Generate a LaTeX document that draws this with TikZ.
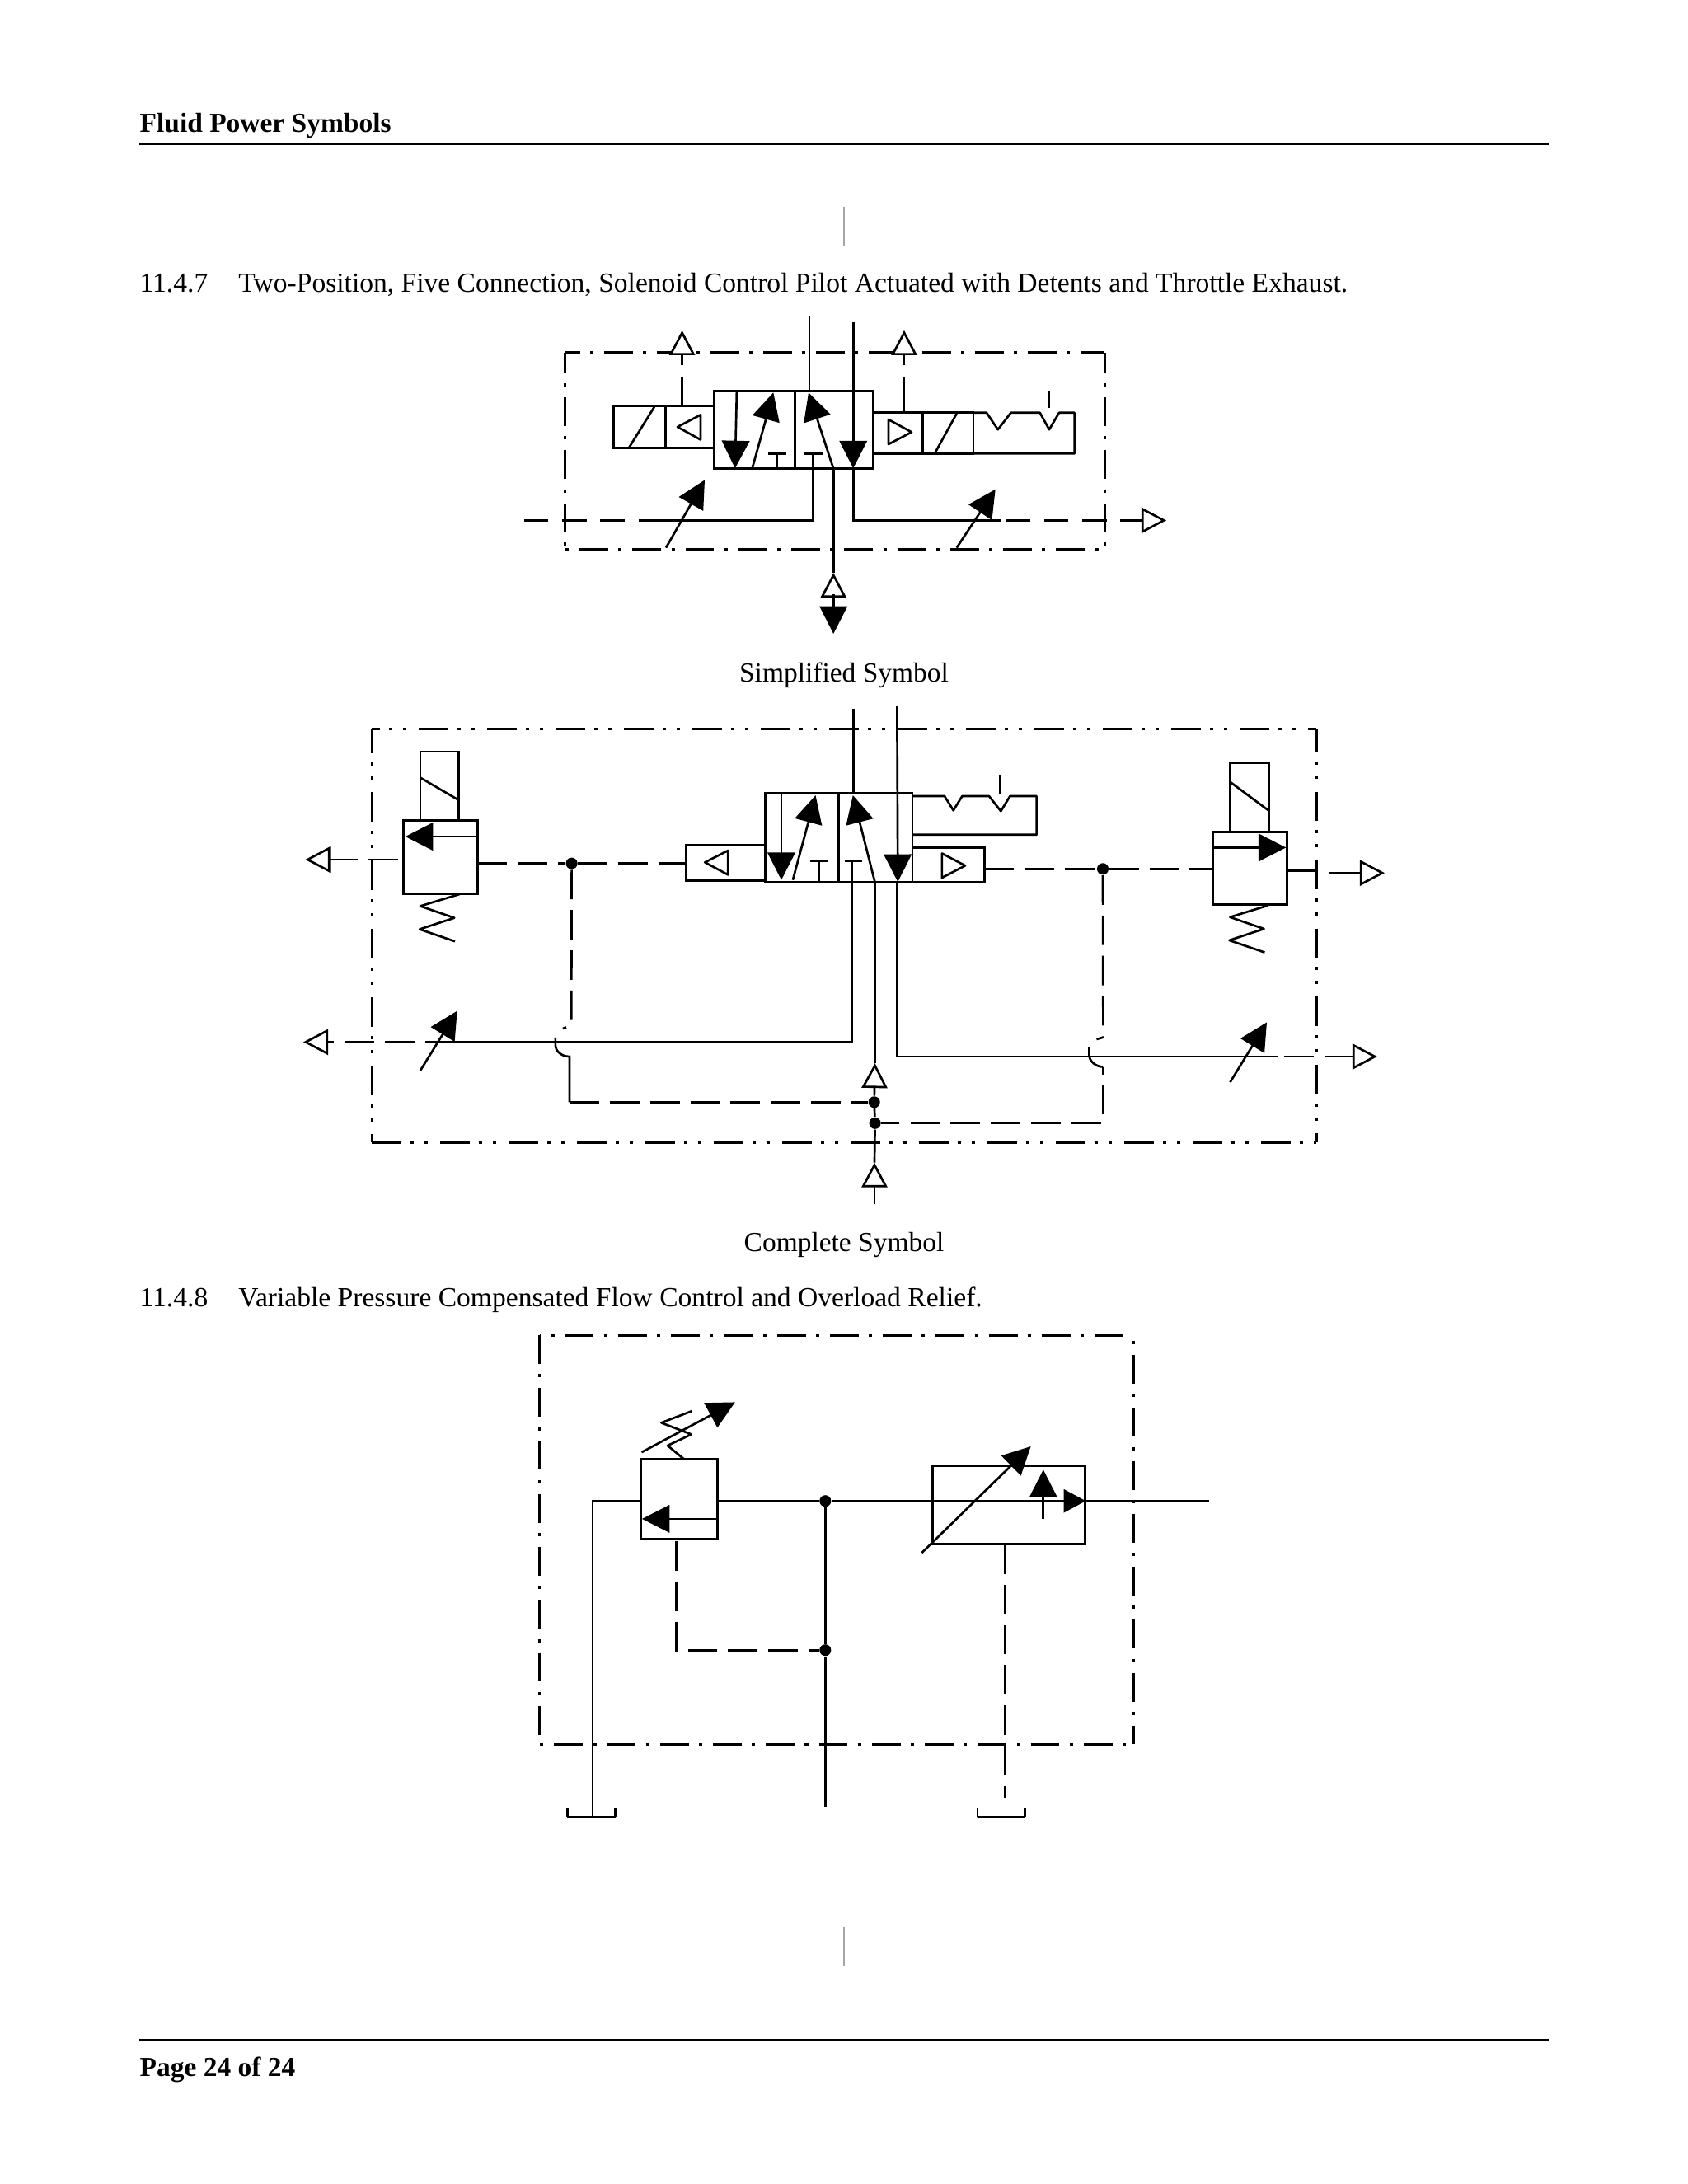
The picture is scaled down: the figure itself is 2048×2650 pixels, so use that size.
\documentclass[tikz,border=0pt]{standalone}
\usepackage{fontspec}
\setmainfont{Liberation Serif}
\usetikzlibrary{arrows.meta}
\usetikzlibrary{fit}
\begin{document}
\begin{tikzpicture}[x=0.29883pt,y=-0.29883pt]
	\tikzset{vertex/.style = {shape=rectangle, draw, line width=0.8pt, inner sep=0pt, outer sep=0pt}}
	\tikzset{junction/.style = {shape=circle, fill=black, inner sep=0pt, minimum size=4.2pt}}
	\tikzset{caption/.style = {anchor=base, inner sep=0pt}}
	\tikzset{heading/.style = {anchor=base west, inner sep=0pt}}
	\tikzset{section/.style = {heading, font=\fontsize{10.03pt}{12pt}\selectfont}}
	\tikzset{pipe/.style = {line width=0.8pt}}
	\tikzset{glyph/.style = {line width=0.8pt, line join=round}}
	\tikzset{pagerule/.style = {line width=0.6pt}}
	\tikzset{regmark/.style = {line width=0.5pt, draw=black!35}}
	\tikzset{pilot/.style = {line width=0.8pt, dash pattern=on 10.7pt off 3.9pt}}
	\tikzset{drain/.style = {line width=0.8pt, dash pattern=on 8.8pt off 5pt}}
	\tikzset{onedot/.style = {line width=0.9pt, dash pattern=on 10.4pt off 3.7pt on 1.2pt off 3.9pt}}
	\tikzset{twodot/.style = {line width=0.9pt, dash pattern=on 10.7pt off 3.3pt on 1.2pt off 3.9pt on 1.2pt off 4.5pt}}
	\tikzset{solidtip/.style = {-{Triangle[length=10pt,width=10pt]}}}
	\tikzset{smalltip/.style = {-{Triangle[length=8pt,width=8.4pt]}}}
	\tikzset{opentip/.style = {-{Triangle[open,fill=white,length=9pt,width=9.3pt]}}}

	\useasboundingbox[fill=white] (0,0) rectangle (2048,2650);

	\node[heading] (HEADER) at (169,160) {\bfseries Fluid Power Symbols};
	\coordinate (HRULEA) at (169,175);
	\coordinate (HRULEB) at (1879,175);
	\draw[pagerule] (HRULEA) -- (HRULEB);
	\coordinate (MARKA) at (1024,251);
	\coordinate (MARKB) at (1024,298);
	\draw[regmark] (MARKA) -- (MARKB);
	\node[section] (TITLEA) at (169,354) {11.4.7\hspace{11.1pt}Two-Position, Five Connection, Solenoid Control Pilot Actuated with Detents and Throttle Exhaust.};

	\coordinate (SNW) at (685.7,427.9);
	\coordinate (SNE) at (1340,427.9);
	\coordinate (SSW) at (685.7,666);
	\coordinate (SSE) at (1340,666);
	\draw[onedot, dash phase=5pt] (SNW) -- (SNE);
	\draw[onedot, dash phase=3pt] (SNW) -- (SSW);
	\draw[onedot, dash phase=14pt] (SSW) -- (SSE);
	\draw[onedot, dash phase=3pt] (SNE) -- (SSE);

	\node[vertex, fit={(744.4,492.7)(807.7,543.7)}] (SSOLL) {};
	\node[vertex, fit={(807.7,492.7)(866.8,543.7)}] (SPILOTL) {};
	\node[vertex, fit={(866.8,474.3)(964.8,568.7)}] (SVALVEL) {};
	\node[vertex, fit={(964.8,474.3)(1059.7,568.7)}] (SVALVER) {};
	\node[vertex, fit={(1059.7,500.8)(1119.4,550.3)}] (SPILOTR) {};
	\node[vertex, fit={(1119.4,500.8)(1181,550.3)}] (SSOLR) {};
	\draw[glyph] (1181,500.8) -- (1197,500.8) -- (1210.7,521.2) -- (1226.5,500.8) -- (1261.7,500.8) -- (1273,521.2) -- (1285,500.8) -- (1303.6,500.8) -- (1303.6,550.3) -- (1181,550.3);
	\draw[glyph] (1273,474.8) -- (1273,495);
	\draw[glyph] (762.8,543.7) -- (793.9,493.7);
	\draw[glyph] (1134,550.3) -- (1160.7,501.8);
	\draw[glyph] (850,503.4) -- (822,518) -- (850,533.5) -- cycle;
	\draw[glyph] (1078,509) -- (1106,524.3) -- (1078,539) -- cycle;
	\draw[glyph] (931.6,550.3) -- (954,550.3);
	\draw[glyph] (942.9,550.3) -- (942.9,568.7);
	\draw[glyph] (975.5,550.3) -- (998,550.3);

	\coordinate (SUPA) at (982.1,384);
	\coordinate (SUPB) at (1035.2,390.6);
	\coordinate (SPORTA) at (982.1,474.3);
	\coordinate (SPORTB) at (1035.2,568.2);
	\coordinate (SPORTC) at (1035.2,568.7);
	\coordinate (SPORTP) at (1011.2,568.7);
	\coordinate (SPORTD) at (986.7,550.3);
	\coordinate (STIPA) at (981,476.3);
	\coordinate (SDOWNA) at (893.9,474.3);
	\coordinate (SDOWNB) at (891.8,568.2);
	\coordinate (SRISEA) at (912.8,567.7);
	\coordinate (SRISEB) at (938.3,476.3);
	\draw[pipe] (SUPA) -- (SPORTA);
	\draw[pipe, solidtip] (SUPB) -- (SPORTB);
	\draw[pipe, solidtip] (SPORTP) -- (STIPA);
	\draw[pipe, solidtip] (SDOWNA) -- (SDOWNB);
	\draw[pipe, solidtip] (SRISEA) -- (SRISEB);

	\coordinate (SPAPEX) at (1011.2,695);
	\coordinate (SPBASE) at (1011.2,721);
	\coordinate (SPBACK) at (1011.2,735);
	\coordinate (SPTIP) at (1011.2,769);
	\draw[pipe] (SPORTP) -- (SPAPEX);
	\draw[pipe, opentip] (SPBACK) -- (SPAPEX);
	\draw[pipe, solidtip] (SPBASE) -- (SPTIP);

	\coordinate (SEXLA) at (827.6,492.7);
	\coordinate (SEXLB) at (827.6,457);
	\coordinate (SEXLC) at (827.6,443);
	\coordinate (SEXLD) at (827.6,400.8);
	\draw[pipe] (SEXLA) -- (SEXLB);
	\draw[pipe, opentip] (SEXLC) -- (SEXLD);
	\coordinate (SEXRA) at (1097,500.8);
	\coordinate (SEXRB) at (1097,457);
	\coordinate (SEXRC) at (1097,443);
	\coordinate (SEXRD) at (1097,400.8);
	\draw[pipe] (SEXRA) -- (SEXRB);
	\draw[pipe, opentip] (SEXRC) -- (SEXRD);

	\coordinate (SCORNL) at (986.7,631.4);
	\coordinate (SSOLIDL) at (804,631.4);
	\coordinate (SENDL) at (634.7,631.4);
	\draw[pipe] (SPORTD) -- (SCORNL) -- (SSOLIDL);
	\draw[drain] (SSOLIDL) -- (SENDL);
	\coordinate (SCORNR) at (1035.2,631.4);
	\coordinate (SSOLIDR) at (1214.8,631.4);
	\coordinate (SENDR) at (1415,631.4);
	\draw[pipe] (SPORTC) -- (SCORNR) -- (SSOLIDR);
	\draw[drain, dash phase=12pt, opentip] (SSOLIDR) -- (SENDR);
	\coordinate (SADJLA) at (808,664.6);
	\coordinate (SADJLB) at (855,582.4);
	\coordinate (SADJRA) at (1160.7,664.6);
	\coordinate (SADJRB) at (1207.7,593.7);
	\draw[pipe, solidtip] (SADJLA) -- (SADJLB);
	\draw[pipe, solidtip] (SADJRA) -- (SADJRB);

	\node[caption] (CAPTIONA) at (1024,827) {Simplified Symbol};

	\coordinate (CNW) at (451.2,884.2);
	\coordinate (CNE) at (1597.3,884.2);
	\coordinate (CSW) at (451.2,1386.4);
	\coordinate (CSE) at (1597.3,1386.4);
	\draw[twodot, dash phase=7.8pt] (CNW) -- (CNE);
	\draw[twodot, dash phase=1.9pt] (CNW) -- (CSW);
	\draw[twodot] (CSW) -- (CSE);
	\draw[twodot, dash phase=2pt] (CNE) -- (CSE);

	\node[vertex, fit={(510,911.9)(556.5,995.8)}] (CCOILL) {};
	\node[vertex, fit={(489.6,995.8)(579.3,1084.2)}] (CRELIEFL) {};
	\node[vertex, fit={(832,1025.3)(928.4,1068.6)}] (CPILOTL) {};
	\node[vertex, fit={(928.4,962.8)(1017.7,1070.8)}] (CVALVEL) {};
	\node[vertex, fit={(1017.7,962.8)(1107,1070.8)}] (CVALVER) {};
	\node[vertex, fit={(1107,1028.8)(1194.2,1070.4)}] (CPILOTR) {};
	\node[vertex, fit={(1492.4,925.7)(1539.3,1009.6)}] (CCOILR) {};
	\node[vertex, fit={(1471.9,1009.6)(1561.6,1097.6)}] (CRELIEFR) {};
	\draw[glyph] (1107,966) -- (1146,966) -- (1156.7,983.3) -- (1167.4,966) -- (1200,966) -- (1214.3,984.2) -- (1225.4,966) -- (1257.6,966) -- (1257.6,1012.8) -- (1107,1012.8);
	\draw[glyph] (1213,940.4) -- (1213,963.7);
	\draw[glyph] (510,943.6) -- (556.5,970.8);
	\draw[glyph] (1493.3,949.4) -- (1538.4,982.9);
	\draw[glyph] (557.4,1085) -- (510,1099.4) -- (551.2,1113.7) -- (509.2,1127.5) -- (552,1142.2);
	\draw[glyph] (1538.8,1098.5) -- (1492.4,1112.8) -- (1533.5,1127) -- (1491.5,1140.9) -- (1534.4,1155.6);
	\draw[glyph] (883.3,1032) -- (855.2,1046.3) -- (883.3,1061.4) -- cycle;
	\draw[glyph] (1142.9,1035.5) -- (1171,1050.3) -- (1142.9,1065) -- cycle;
	\draw[glyph] (983,1044.5) -- (1005,1044.5);
	\draw[glyph] (994,1044.5) -- (994,1070.8);
	\draw[glyph] (1024.6,1044.5) -- (1046,1044.5);

	\coordinate (CFLOWLA) at (579.3,1015);
	\coordinate (CFLOWLB) at (491.8,1015);
	\coordinate (CFLOWRA) at (1471.9,1028.4);
	\coordinate (CFLOWRB) at (1560.3,1028.4);
	\draw[pipe, solidtip] (CFLOWLA) -- (CFLOWLB);
	\draw[pipe, solidtip] (CFLOWRA) -- (CFLOWRB);

	\coordinate (CUPA) at (1035.3,860);
	\coordinate (CUPB) at (1088.4,857);
	\coordinate (CPORTA) at (1035.3,962.8);
	\coordinate (CPORTB) at (1089.3,1070);
	\coordinate (CPORTC) at (1088.4,1070.8);
	\coordinate (CPORTP) at (1061.6,1070.8);
	\coordinate (CPORTD) at (1033.5,1044.5);
	\coordinate (CTIPA) at (1034.8,965);
	\coordinate (CDOWNA) at (948,962.8);
	\coordinate (CDOWNB) at (948,1067.7);
	\coordinate (CRISEA) at (961.9,1067.7);
	\coordinate (CRISEB) at (989.5,965);
	\draw[pipe] (CUPA) -- (CPORTA);
	\draw[pipe, solidtip] (CUPB) -- (CPORTB);
	\draw[pipe, solidtip] (CPORTP) -- (CTIPA);
	\draw[pipe, solidtip] (CDOWNA) -- (CDOWNB);
	\draw[pipe, solidtip] (CRISEA) -- (CRISEB);

	\node[junction] (CDOTA) at (693.6,1047.6) {};
	\node[junction] (CDOTB) at (1338,1054.3) {};
	\node[junction] (CDOTC) at (1060.7,1337.3) {};
	\node[junction] (CDOTD) at (1061.6,1362.8) {};
	\coordinate (CRELLOUT) at (579.3,1047.6);
	\coordinate (CRELROUT) at (1471.9,1054.3);
	\draw[pilot] (CRELLOUT) -- (CDOTA);
	\draw[pilot] (CDOTA) -- (CPILOTL.west |- CDOTA);
	\draw[pilot] (CPILOTR.east |- CDOTB) -- (CDOTB);
	\draw[pilot] (CDOTB) -- (CRELROUT);

	\coordinate (CEXITLA) at (482.9,1043);
	\coordinate (CEXITLB) at (370.4,1043);
	\draw[pilot, opentip] (CEXITLA) -- (CEXITLB);
	\coordinate (CEXITRA) at (1561.6,1056.5);
	\coordinate (CEXITRB) at (1597.3,1056.5);
	\coordinate (CEXITRC) at (1611.6,1059.2);
	\coordinate (CEXITRD) at (1680,1059.2);
	\draw[pipe] (CEXITRA) -- (CEXITRB);
	\draw[pipe, opentip] (CEXITRC) -- (CEXITRD);

	\coordinate (CLINELA) at (1033.5,1264.4);
	\coordinate (CLINELB) at (552,1264.4);
	\coordinate (CLINELC) at (368,1264.4);
	\draw[pipe] (CPORTD) -- (CLINELA) -- (CLINELB);
	\draw[pilot, opentip] (CLINELB) -- (CLINELC);
	\coordinate (CLINERA) at (1088.4,1282);
	\coordinate (CLINERB) at (1550,1282);
	\coordinate (CLINERC) at (1558,1282);
	\coordinate (CLINERD) at (1671,1282);
	\draw[pipe] (CPORTC) -- (CLINERA) -- (CLINERB);
	\draw[pilot, opentip] (CLINERC) -- (CLINERD);
	\coordinate (CADJLA) at (510,1298.9);
	\coordinate (CADJLB) at (554.7,1226.6);
	\coordinate (CADJRA) at (1492.4,1313.2);
	\coordinate (CADJRB) at (1537,1240.4);
	\draw[pipe, solidtip] (CADJLA) -- (CADJLB);
	\draw[pipe, solidtip] (CADJRA) -- (CADJRB);

	\coordinate (CHOPLA) at (693.3,1244);
	\coordinate (CHOPLB) at (682.9,1248);
	\coordinate (CHOPLC) at (673.9,1258.8);
	\coordinate (CHOPLD) at (691,1282);
	\coordinate (CCORNL) at (691,1337.3);
	\draw[pilot] (CDOTA) -- (CHOPLA) -- (CHOPLB);
	\draw[pipe] (CHOPLC) -- (673.9,1268) .. controls (673.9,1276) and (682,1282) .. (CHOPLD) -- (CCORNL);
	\draw[pilot] (CCORNL) -- (CDOTC);
	\coordinate (CHOPRA) at (1338.4,1258.7);
	\coordinate (CHOPRB) at (1330.4,1261);
	\coordinate (CHOPRC) at (1321.4,1270.8);
	\coordinate (CHOPRD) at (1338.4,1294.5);
	\coordinate (CCORNR) at (1338.4,1362.8);
	\draw[pilot] (CDOTB) -- (CHOPRA) -- (CHOPRB);
	\draw[pipe] (CHOPRC) -- (1321.4,1279.7) .. controls (1321.4,1288) and (1330,1294.5) .. (CHOPRD);
	\draw[pilot, dash phase=8pt] (CHOPRD) -- (CCORNR) -- (CDOTD);

	\coordinate (CAPEXA) at (1061.6,1290);
	\coordinate (CBASEA) at (1061.6,1317);
	\coordinate (CAPEXB) at (1061,1410.5);
	\coordinate (CTAILB) at (1061,1460.5);
	\draw[pipe] (CPORTP) -- (CAPEXA);
	\draw[pipe, opentip] (CDOTC) -- (CAPEXA);
	\draw[pipe] (CDOTC) -- (CDOTD);
	\draw[pipe] (CDOTD) -- (CAPEXB);
	\draw[pipe, opentip] (CTAILB) -- (CAPEXB);

	\node[caption] (CAPTIONB) at (1024,1518.6) {Complete Symbol};
	\node[section] (TITLEB) at (169,1585) {11.4.8\hspace{11.1pt}Variable Pressure Compensated Flow Control and Overload Relief.};

	\coordinate (VNW) at (654.9,1620.1);
	\coordinate (VNE) at (1375.3,1620.1);
	\coordinate (VSW) at (654.9,2116);
	\coordinate (VSE) at (1375.3,2116);
	\draw[onedot, dash phase=10pt] (VNW) -- (VNE);
	\draw[onedot] (VNW) -- (VSW);
	\draw[onedot, dash phase=14pt] (VSW) -- (VSE);
	\draw[onedot, dash phase=12pt] (VNE) -- (VSE);

	\node[vertex, fit={(777.4,1770.8)(870.7,1867.3)}] (VRELIEF) {};
	\node[vertex, fit={(1131.4,1778.4)(1316.2,1873.8)}] (VFLOW) {};
	\node[junction] (VDOTA) at (1001.3,1821.2) {};
	\node[junction] (VDOTB) at (1001.3,2002.2) {};
	\coordinate (VCORNER) at (718.9,1821.2);
	\coordinate (VRELL) at (777.4,1821.2);
	\coordinate (VRELR) at (870.7,1821.2);
	\coordinate (VOUT) at (1467.4,1821.2);
	\coordinate (VTANKA) at (718.9,2204.4);
	\coordinate (VDROP) at (1001.3,2192.5);
	\coordinate (VBACKA) at (1290.7,1821.2);
	\coordinate (VBACKB) at (1317.3,1821.2);
	\draw[pipe] (VRELL) -- (VCORNER) -- (VTANKA);
	\draw[pipe] (VRELR) -- (VDOTA);
	\draw[pipe] (VDOTA) -- (VOUT);
	\draw[pipe] (VDOTA) -- (VDOTB);
	\draw[pipe] (VDOTB) -- (VDROP);
	\draw[pipe, smalltip] (VBACKA) -- (VBACKB);

	\coordinate (VPILOTA) at (820.2,1870);
	\coordinate (VPILOTB) at (820.2,2002.2);
	\draw[pilot] (VPILOTA) -- (VPILOTB) -- (VDOTB);
	\coordinate (VDRAINA) at (1219.7,1873.8);
	\coordinate (VDRAINB) at (1219.7,2181.6);
	\draw[pilot] (VDRAINA) -- (VDRAINB);

	\draw[glyph] (688.5,2193.6) -- (688.5,2204.4) -- (746.5,2204.4) -- (746.5,2193.6);
	\draw[glyph] (1186.1,2193.6) -- (1186.1,2204.4) -- (1243.6,2204.4) -- (1243.6,2193.6);
	\draw[glyph] (839.2,1712.2) -- (802.4,1726.3) -- (838.7,1740.4) -- (810,1754) -- (829,1769.7);

	\coordinate (VFLOWA) at (870.7,1842.9);
	\coordinate (VFLOWB) at (779,1842.9);
	\coordinate (VSETA) at (778.5,1762.1);
	\coordinate (VSETB) at (891.8,1701.4);
	\coordinate (VVARA) at (1118.4,1884.1);
	\coordinate (VVARB) at (1250.6,1755);
	\coordinate (VUPA) at (1265.8,1842.9);
	\coordinate (VUPB) at (1265.8,1783.3);
	\draw[pipe, solidtip] (VFLOWA) -- (VFLOWB);
	\draw[pipe, solidtip] (VSETA) -- (VSETB);
	\draw[pipe, solidtip] (VVARA) -- (VVARB);
	\draw[pipe, solidtip] (VUPA) -- (VUPB);

	\coordinate (MARKC) at (1024,2338);
	\coordinate (MARKD) at (1024,2385);
	\draw[regmark] (MARKC) -- (MARKD);
	\coordinate (FRULEA) at (169,2475);
	\coordinate (FRULEB) at (1879,2475);
	\draw[pagerule] (FRULEA) -- (FRULEB);
	\node[heading] (FOOTER) at (169,2519) {\bfseries Page 24 of 24};
\end{tikzpicture}
\end{document}
